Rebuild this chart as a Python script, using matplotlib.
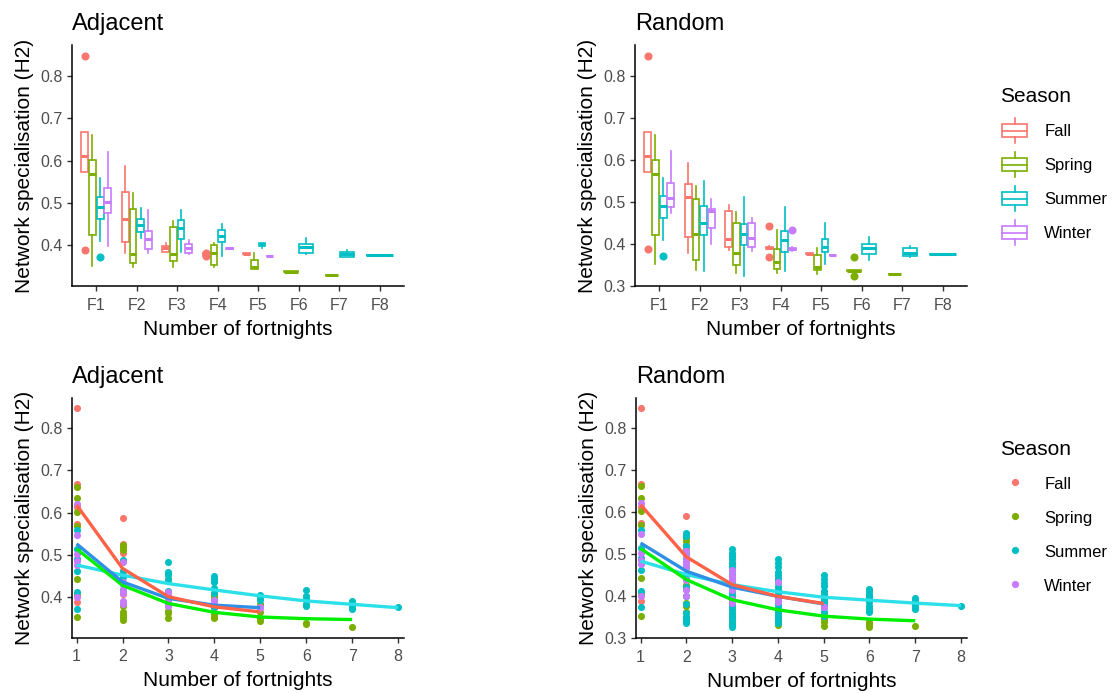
import matplotlib
matplotlib.use("Agg")
import matplotlib.pyplot as plt
from matplotlib.legend_handler import HandlerBase
from matplotlib.patches import Rectangle
from matplotlib.lines import Line2D

plt.rcParams['font.family'] = ['Liberation Sans', 'DejaVu Sans']

seasons = ["Fall", "Spring", "Summer", "Winter"]
colors = {"Fall": "#F8766D", "Spring": "#7CAE00", "Summer": "#00BFC4", "Winter": "#C77CFF"}
fit_colors = {"Fall": "#FF6347", "Spring": "#00EE00", "Summer": "#2BE0E8", "Winter": "#2F8FE6"}
fortnights = ["F1", "F2", "F3", "F4", "F5", "F6", "F7", "F8"]

# box stats per fortnight: (whisker low, q1, median, q3, whisker high)
adj_fall = [(0.574, 0.574, 0.612, 0.667, 0.667), (0.383, 0.408, 0.462, 0.525, 0.588),
            (0.385, 0.385, 0.393, 0.398, 0.405), (0.374, 0.375, 0.378, 0.381, 0.382),
            (0.379, 0.379, 0.380, 0.381, 0.381), None, None, None]
adj_spring = [(0.352, 0.424, 0.568, 0.601, 0.661), (0.350, 0.358, 0.380, 0.486, 0.523),
              (0.350, 0.363, 0.380, 0.444, 0.458), (0.350, 0.354, 0.381, 0.401, 0.405),
              (0.343, 0.343, 0.350, 0.365, 0.383), (0.337, 0.337, 0.338, 0.339, 0.339),
              (0.329, 0.330, 0.330, 0.331, 0.331), None]
adj_summer = [(0.411, 0.462, 0.491, 0.515, 0.558), (0.418, 0.431, 0.448, 0.462, 0.487),
              (0.385, 0.415, 0.440, 0.460, 0.483), (0.376, 0.409, 0.422, 0.436, 0.450),
              (0.393, 0.398, 0.402, 0.406, 0.406), (0.380, 0.383, 0.395, 0.403, 0.417),
              (0.372, 0.373, 0.380, 0.385, 0.390), (0.377, 0.377, 0.377, 0.378, 0.378)]
adj_winter = [(0.399, 0.476, 0.502, 0.536, 0.620), (0.383, 0.391, 0.415, 0.435, 0.483),
              (0.380, 0.383, 0.393, 0.402, 0.413), (0.392, 0.392, 0.393, 0.394, 0.394),
              (0.374, 0.374, 0.375, 0.376, 0.376), None, None, None]
adj_out = {"Fall": {1: [0.847, 0.388], 4: [0.381, 0.374]}, "Spring": {},
           "Summer": {1: [0.373]}, "Winter": {}}

rnd_fall = [(0.572, 0.572, 0.610, 0.666, 0.666), (0.379, 0.417, 0.512, 0.544, 0.592),
            (0.385, 0.393, 0.411, 0.479, 0.494), (0.387, 0.388, 0.391, 0.394, 0.395),
            (0.376, 0.376, 0.377, 0.378, 0.378), None, None, None]
rnd_spring = [(0.353, 0.422, 0.566, 0.599, 0.659), (0.339, 0.361, 0.425, 0.508, 0.538),
              (0.331, 0.351, 0.379, 0.451, 0.476), (0.331, 0.341, 0.357, 0.389, 0.433),
              (0.329, 0.337, 0.345, 0.373, 0.391), (0.334, 0.335, 0.336, 0.337, 0.338),
              (0.328, 0.328, 0.328, 0.329, 0.329), None]
rnd_summer = [(0.410, 0.462, 0.490, 0.514, 0.558), (0.336, 0.421, 0.451, 0.490, 0.550),
              (0.325, 0.397, 0.425, 0.447, 0.511), (0.336, 0.381, 0.410, 0.431, 0.487),
              (0.353, 0.381, 0.393, 0.413, 0.449), (0.363, 0.377, 0.391, 0.400, 0.417),
              (0.369, 0.372, 0.379, 0.391, 0.395), (0.376, 0.376, 0.376, 0.377, 0.377)]
rnd_winter = [(0.475, 0.487, 0.510, 0.546, 0.621), (0.399, 0.437, 0.479, 0.483, 0.508),
              (0.383, 0.393, 0.414, 0.451, 0.461), (0.383, 0.385, 0.388, 0.391, 0.392),
              (0.373, 0.373, 0.373, 0.374, 0.374), None, None, None]
rnd_out = {"Fall": {1: [0.848, 0.387], 4: [0.442, 0.369]}, "Spring": {6: [0.369, 0.325]},
           "Summer": {1: [0.372]}, "Winter": {4: [0.433]}}

# raw H2 values per fortnight count (index 0 -> 1 fortnight)
adj_pts_fall = [[0.847, 0.667, 0.612, 0.574, 0.388], [0.588, 0.525, 0.505, 0.462, 0.408, 0.383],
                [0.405, 0.398, 0.393, 0.385], [0.382, 0.378, 0.375], [0.381, 0.379]]
adj_pts_spring = [[0.661, 0.634, 0.601, 0.568, 0.442, 0.405, 0.352],
                  [0.523, 0.518, 0.512, 0.486, 0.380, 0.365, 0.358, 0.352, 0.346],
                  [0.458, 0.444, 0.380, 0.368, 0.363, 0.350],
                  [0.405, 0.401, 0.381, 0.360, 0.354, 0.350],
                  [0.383, 0.365, 0.350, 0.343], [0.338, 0.337], [0.330]]
adj_pts_summer = [[0.558, 0.515, 0.491, 0.462, 0.411, 0.373], [0.487, 0.462, 0.448, 0.431, 0.418],
                  [0.483, 0.460, 0.452, 0.440, 0.415, 0.385],
                  [0.450, 0.443, 0.436, 0.422, 0.409, 0.376],
                  [0.406, 0.402, 0.398, 0.393], [0.417, 0.403, 0.395, 0.383, 0.380],
                  [0.390, 0.380, 0.372], [0.377]]
adj_pts_winter = [[0.620, 0.547, 0.502, 0.486, 0.476, 0.400],
                  [0.483, 0.435, 0.420, 0.410, 0.391, 0.383],
                  [0.413, 0.402, 0.393, 0.383, 0.380], [0.394, 0.392], [0.376, 0.374]]

rnd_pts_fall = [[0.847, 0.667, 0.612, 0.574, 0.388], [0.591, 0.544, 0.512, 0.480, 0.417, 0.379],
                [0.494, 0.479, 0.440, 0.411, 0.393, 0.385], [0.442, 0.395, 0.391, 0.388, 0.369],
                [0.378, 0.376]]
rnd_pts_spring = [[0.661, 0.634, 0.601, 0.568, 0.442, 0.405, 0.352],
                  [0.538, 0.530, 0.522, 0.508, 0.470, 0.425, 0.400, 0.384, 0.375, 0.361, 0.350, 0.339],
                  [0.476, 0.451, 0.420, 0.379, 0.360, 0.351, 0.340, 0.331],
                  [0.433, 0.389, 0.370, 0.357, 0.345, 0.341, 0.331],
                  [0.391, 0.373, 0.355, 0.345, 0.337, 0.329],
                  [0.369, 0.338, 0.336, 0.334, 0.325], [0.328]]
rnd_pts_summer = [[0.558, 0.515, 0.491, 0.462, 0.411, 0.373],
                  [0.550, 0.542, 0.520, 0.500, 0.490, 0.470, 0.451, 0.440, 0.421, 0.400,
                   0.380, 0.360, 0.351, 0.343, 0.336],
                  [0.512, 0.503, 0.495, 0.487, 0.478, 0.470, 0.461, 0.453, 0.447, 0.440,
                   0.432, 0.425, 0.418, 0.410, 0.403, 0.397, 0.390, 0.382, 0.374, 0.366,
                   0.358, 0.350, 0.342, 0.334, 0.326],
                  [0.487, 0.478, 0.468, 0.458, 0.449, 0.440, 0.431, 0.422, 0.415, 0.410,
                   0.402, 0.394, 0.387, 0.381, 0.373, 0.365, 0.357, 0.349, 0.342, 0.336],
                  [0.449, 0.441, 0.432, 0.424, 0.413, 0.405, 0.398, 0.393, 0.386, 0.381,
                   0.372, 0.363, 0.353],
                  [0.417, 0.411, 0.405, 0.400, 0.395, 0.391, 0.385, 0.377, 0.370, 0.363],
                  [0.395, 0.391, 0.384, 0.379, 0.372, 0.369], [0.376]]
rnd_pts_winter = [[0.620, 0.547, 0.502, 0.486, 0.476, 0.400],
                  [0.508, 0.495, 0.483, 0.479, 0.470, 0.437, 0.415, 0.399],
                  [0.461, 0.451, 0.445, 0.437, 0.414, 0.393, 0.383],
                  [0.433, 0.392, 0.388, 0.385], [0.374, 0.373]]

# fitted decay curves
adj_fit_fall = [0.618, 0.468, 0.401, 0.377, 0.365]
adj_fit_spring = [0.514, 0.428, 0.385, 0.364, 0.353, 0.349, 0.347]
adj_fit_summer = [0.476, 0.452, 0.432, 0.417, 0.403, 0.391, 0.383, 0.375]
adj_fit_winter = [0.526, 0.436, 0.397, 0.381, 0.375]
rnd_fit_fall = [0.617, 0.493, 0.427, 0.399, 0.382]
rnd_fit_spring = [0.513, 0.439, 0.391, 0.367, 0.352, 0.345, 0.341]
rnd_fit_summer = [0.483, 0.451, 0.427, 0.410, 0.397, 0.390, 0.383, 0.377]
rnd_fit_winter = [0.526, 0.459, 0.421, 0.399, 0.381]


def style(ax, title, yticks, ylim):
    for s in ["top", "right"]:
        ax.spines[s].set_visible(False)
    for s in ["left", "bottom"]:
        ax.spines[s].set_linewidth(1.1)
    ax.tick_params(length=3.5, width=1.0, color="#333333", labelcolor="#4D4D4D",
                   labelsize=11.5, pad=3)
    ax.tick_params(axis="x", pad=5)
    ax.set_yticks(yticks)
    ax.set_yticklabels([f"{v:.1f}" for v in yticks])
    ax.set_ylim(*ylim)
    ax.set_title(title, loc="left", fontsize=17, pad=11)
    ax.set_xlabel("Number of fortnights", fontsize=15, labelpad=5)
    ax.set_ylabel("Network specialisation (H2)", fontsize=15, labelpad=5)


def draw_boxes(ax, boxes, outs):
    for fi in range(len(fortnights)):
        present = [s for s in seasons if boxes[s][fi] is not None]
        slot = 0.75 / len(present)
        for k, s in enumerate(present):
            lo, q1, med, q3, hi = boxes[s][fi]
            c = colors[s]
            st = dict(whislo=lo, q1=q1, med=med, q3=q3, whishi=hi,
                      fliers=outs[s].get(fi + 1, []))
            pos = fi + 1 - 0.375 + (k + 0.5) * slot
            ax.bxp([st], positions=[pos], widths=slot * 0.9, showcaps=False,
                   patch_artist=True, manage_ticks=False,
                   boxprops=dict(facecolor="white", edgecolor=c, lw=1.2),
                   whiskerprops=dict(color=c, lw=1.2),
                   medianprops=dict(color=c, lw=2.2),
                   flierprops=dict(marker="o", mfc=c, mec=c, ms=4.8))
    ax.set_xlim(0.4, 8.6)
    ax.set_xticks(range(1, 9))
    ax.set_xticklabels(fortnights)


def draw_points(ax, pts, fits):
    for s in seasons:
        for i, vals in enumerate(pts[s]):
            ax.scatter([i + 1] * len(vals), vals, s=26, color=colors[s], lw=0, zorder=2)
    for s in ["Summer", "Spring", "Winter", "Fall"]:
        f = fits[s]
        ax.plot(range(1, len(f) + 1), f, color=fit_colors[s], lw=2.4, zorder=3,
                solid_capstyle="butt")
    ax.set_xlim(0.9, 8.13)
    ax.set_xticks(range(1, 9))


class BoxKey(HandlerBase):
    def create_artists(self, legend, orig_handle, xdescent, ydescent, width, height,
                       fontsize, trans):
        c = orig_handle.get_color()
        x0, y0 = -xdescent, -ydescent
        cx = x0 + width / 2
        cy = y0 + height / 2
        bh = 0.35 * height
        wh = 0.65 * height
        box = Rectangle((x0 + 0.06 * width, cy - bh), 0.88 * width, 2 * bh,
                        fill=False, ec=c, lw=1.2, transform=trans)
        med = Line2D([x0 + 0.06 * width, x0 + 0.94 * width], [cy, cy],
                     color=c, lw=1.2, transform=trans)
        w1 = Line2D([cx, cx], [cy - wh, cy - bh], color=c, lw=1.2, transform=trans)
        w2 = Line2D([cx, cx], [cy + bh, cy + wh], color=c, lw=1.2, transform=trans)
        return [box, med, w1, w2]


fig = plt.figure(figsize=(11.13, 6.93), dpi=100)
W, H = 1113, 693

def place(l, r, t, b):
    return fig.add_axes([l / W, 1 - b / H, (r - l) / W, (b - t) / H])

ax1 = place(72, 404, 45, 286)
ax2 = place(635, 967, 45, 286)
ax3 = place(72, 404, 398, 637.5)
ax4 = place(636, 967, 398, 638)

draw_boxes(ax1, {"Fall": adj_fall, "Spring": adj_spring, "Summer": adj_summer,
                 "Winter": adj_winter}, adj_out)
style(ax1, "Adjacent", [0.4, 0.5, 0.6, 0.7, 0.8], (0.304, 0.873))
draw_boxes(ax2, {"Fall": rnd_fall, "Spring": rnd_spring, "Summer": rnd_summer,
                 "Winter": rnd_winter}, rnd_out)
style(ax2, "Random", [0.3, 0.4, 0.5, 0.6, 0.7, 0.8], (0.300, 0.874))

draw_points(ax3, {"Fall": adj_pts_fall, "Spring": adj_pts_spring, "Summer": adj_pts_summer,
                  "Winter": adj_pts_winter},
            {"Fall": adj_fit_fall, "Spring": adj_fit_spring, "Summer": adj_fit_summer,
             "Winter": adj_fit_winter})
style(ax3, "Adjacent", [0.4, 0.5, 0.6, 0.7, 0.8], (0.3045, 0.871))
draw_points(ax4, {"Fall": rnd_pts_fall, "Spring": rnd_pts_spring, "Summer": rnd_pts_summer,
                  "Winter": rnd_pts_winter},
            {"Fall": rnd_fit_fall, "Spring": rnd_fit_spring, "Summer": rnd_fit_summer,
             "Winter": rnd_fit_winter})
style(ax4, "Random", [0.3, 0.4, 0.5, 0.6, 0.7, 0.8], (0.300, 0.871))

leg_kw = dict(loc="upper left", frameon=False, title="Season", title_fontsize=15,
              fontsize=12, alignment="left", borderpad=0, borderaxespad=0,
              handlelength=1.75, handleheight=1.38, labelspacing=0.9, handletextpad=0.9)

box_handles = [Line2D([], [], color=colors[s]) for s in seasons]
fig.legend(box_handles, seasons, bbox_to_anchor=(1000 / W, 1 - 87 / H),
           handler_map={Line2D: BoxKey()}, **leg_kw)

pt_handles = [Line2D([], [], color=colors[s], marker="o", ls="", ms=5.2, mew=0) for s in seasons]
fig.legend(pt_handles, seasons, bbox_to_anchor=(1000 / W, 1 - 440 / H), **leg_kw)

fig.savefig("out.png", dpi=100, facecolor="white")
